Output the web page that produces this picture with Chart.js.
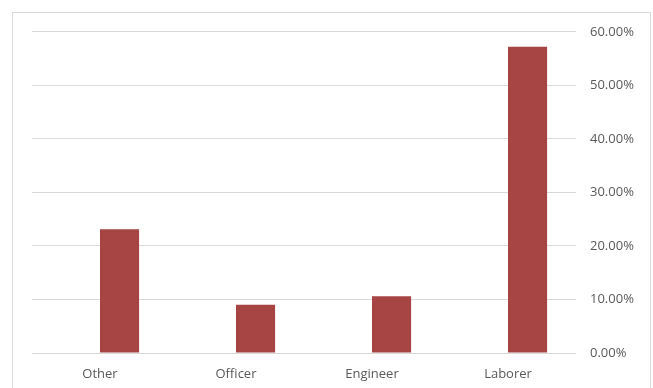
<!DOCTYPE html>
<html>
<head>
<meta charset="utf-8">
<script src="https://cdn.jsdelivr.net/npm/chart.js@4"></script>
<style>
  html, body { margin: 0; padding: 0; background: #fff; overflow: hidden; }
  #frame {
    position: absolute; left: 12px; top: 12px;
    width: 637px; height: 400px;
    border: 1px solid #D9D9D9; border-bottom: none;
  }
  #wrap { position: absolute; left: 0; top: -3px; width: 637px; height: 378px; }
</style>
</head>
<body>
<div id="frame"><div id="wrap"><canvas id="barChart"></canvas></div></div>
<script>
// categories and values (share of total)
let categories = ['Other', 'Officer', 'Engineer', 'Laborer'];
let blankSeries = [null, null, null, null];   // empty first series, keeps the bar offset
let shareValues = [0.231, 0.090, 0.106, 0.572];
let yTicks = [0, 0.1, 0.2, 0.3, 0.4, 0.5, 0.6];

let textColor = '#595959';
let gridColor = '#D9D9D9';
let barColor = '#A74544';

let ctx = document.getElementById('barChart').getContext('2d');
let barChart = new Chart(ctx, {
    type: 'bar',
    data: {
        labels: categories,
        datasets: [{
            label: 'blank',
            data: blankSeries,
            backgroundColor: 'rgba(0,0,0,0)'
        }, {
            label: 'Share',
            data: shareValues,
            backgroundColor: barColor,
            borderColor: barColor,
            borderWidth: 0
        }]
    },
    options: {
        responsive: true,
        maintainAspectRatio: false,
        animation: false,
        categoryPercentage: 0.575,
        barPercentage: 1.0,
        layout: { padding: { left: 19, right: 14, top: 15, bottom: 0 } },
        plugins: {
            legend: { display: false },
            tooltip: { enabled: false }
        },
        scales: {
            x: {
                grid: { display: false, drawTicks: false },
                border: { display: false },
                ticks: {
                    color: textColor,
                    padding: 13,
                    font: { family: 'Open Sans', size: 13 }
                },
                afterFit: function (scale) { scale.height = 35; }
            },
            y: {
                position: 'right',
                min: 0,
                max: 0.6,
                afterBuildTicks: function (scale) {
                    scale.ticks = yTicks.map(v => ({ value: v }));
                },
                grid: { color: gridColor, lineWidth: 1, drawTicks: false },
                border: { display: false },
                ticks: {
                    color: textColor,
                    padding: 14,
                    font: { family: 'Open Sans', size: 13 },
                    callback: function (v) { return (v * 100).toFixed(2) + '%'; }
                },
                afterFit: function (scale) { scale.width = 60; }
            }
        }
    }
});
</script>
</body>
</html>
